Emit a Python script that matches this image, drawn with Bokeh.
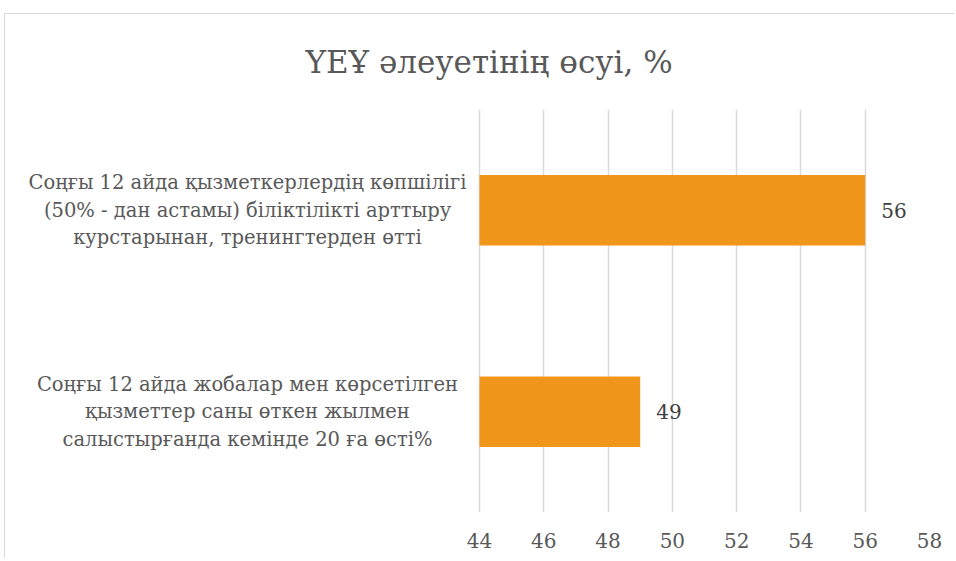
from bokeh.plotting import figure
from bokeh.models import FactorRange, Range1d, FixedTicker, ColumnDataSource, Title
from bokeh.core.properties import value
from bokeh.embed import file_html
from bokeh.resources import INLINE

title_text = "ҮЕҰ әлеуетінің өсуі, %"
categories = [
    "Соңғы 12 айда жобалар мен көрсетілген\nқызметтер саны өткен жылмен\nсалыстырғанда кемінде 20 ға өсті%",
    "Соңғы 12 айда қызметкерлердің көпшілігі\n(50% - дан астамы) біліктілікті арттыру\nкурстарынан, тренингтерден өтті",
]
values = [49, 56]
x_ticks = [44, 46, 48, 50, 52, 54, 56, 58]

FONT = "DejaVu Serif"
GREY = "#595959"
X0, X1 = 44, 58
VALUE_W = 450          # pixels spanned by the value axis 44..58
LABEL_W = 464          # pixels left of the value axis kept for category texts
px_per_unit = VALUE_W / (X1 - X0)

src = ColumnDataSource(dict(cat=categories, val=values, lbl=[str(v) for v in values]))

p = figure(
    width=949, height=544,
    y_range=FactorRange(*categories, range_padding=0),
    x_range=Range1d(X0 - LABEL_W / px_per_unit, X1),
    output_backend="svg", toolbar_location=None,
    frame_width=VALUE_W + LABEL_W, frame_height=403,
    min_border_left=10, min_border_top=95, min_border_right=25, min_border_bottom=46,
)
p.title = Title(text=title_text, align="left", vertical_align="top", offset=290, standoff=55,
                text_font=FONT, text_font_size="31px",
                text_color=GREY, text_font_style="normal")

p.hbar(y="cat", left=X0, right="val", height=0.35, source=src, color="#F0961B", line_color=None)
p.text(x="val", y="cat", text="lbl", source=src, x_offset=16, text_align="left",
       text_baseline="middle", text_font=value(FONT), text_font_size="20px",
       text_color="#404040")

# category texts, centred in the space left of the value axis
p.text(x=X0 - 232 / px_per_unit, y="cat", text="cat", source=src, text_align="center",
       text_baseline="middle", text_font=value(FONT), text_font_size="19.5px",
       text_color=GREY, text_line_height=1.19)

p.xaxis.ticker = FixedTicker(ticks=x_ticks)
p.xaxis.axis_line_color = None
p.xaxis.major_tick_line_color = None
p.xaxis.minor_tick_line_color = None
p.xaxis.major_label_text_font = FONT
p.xaxis.major_label_text_font_size = "20px"
p.xaxis.major_label_text_color = GREY
p.xaxis.major_label_standoff = 14

p.yaxis.visible = False

p.xgrid.grid_line_color = "#D9D9D9"
p.xgrid.grid_line_width = 1.5
p.ygrid.grid_line_color = None
p.outline_line_color = None
p.styles = {"border-top": "1px solid #D9D9D9", "border-left": "1px solid #D9D9D9",
            "margin-left": "4px", "margin-top": "13px"}

open("out.html", "w").write(file_html(p, INLINE))
